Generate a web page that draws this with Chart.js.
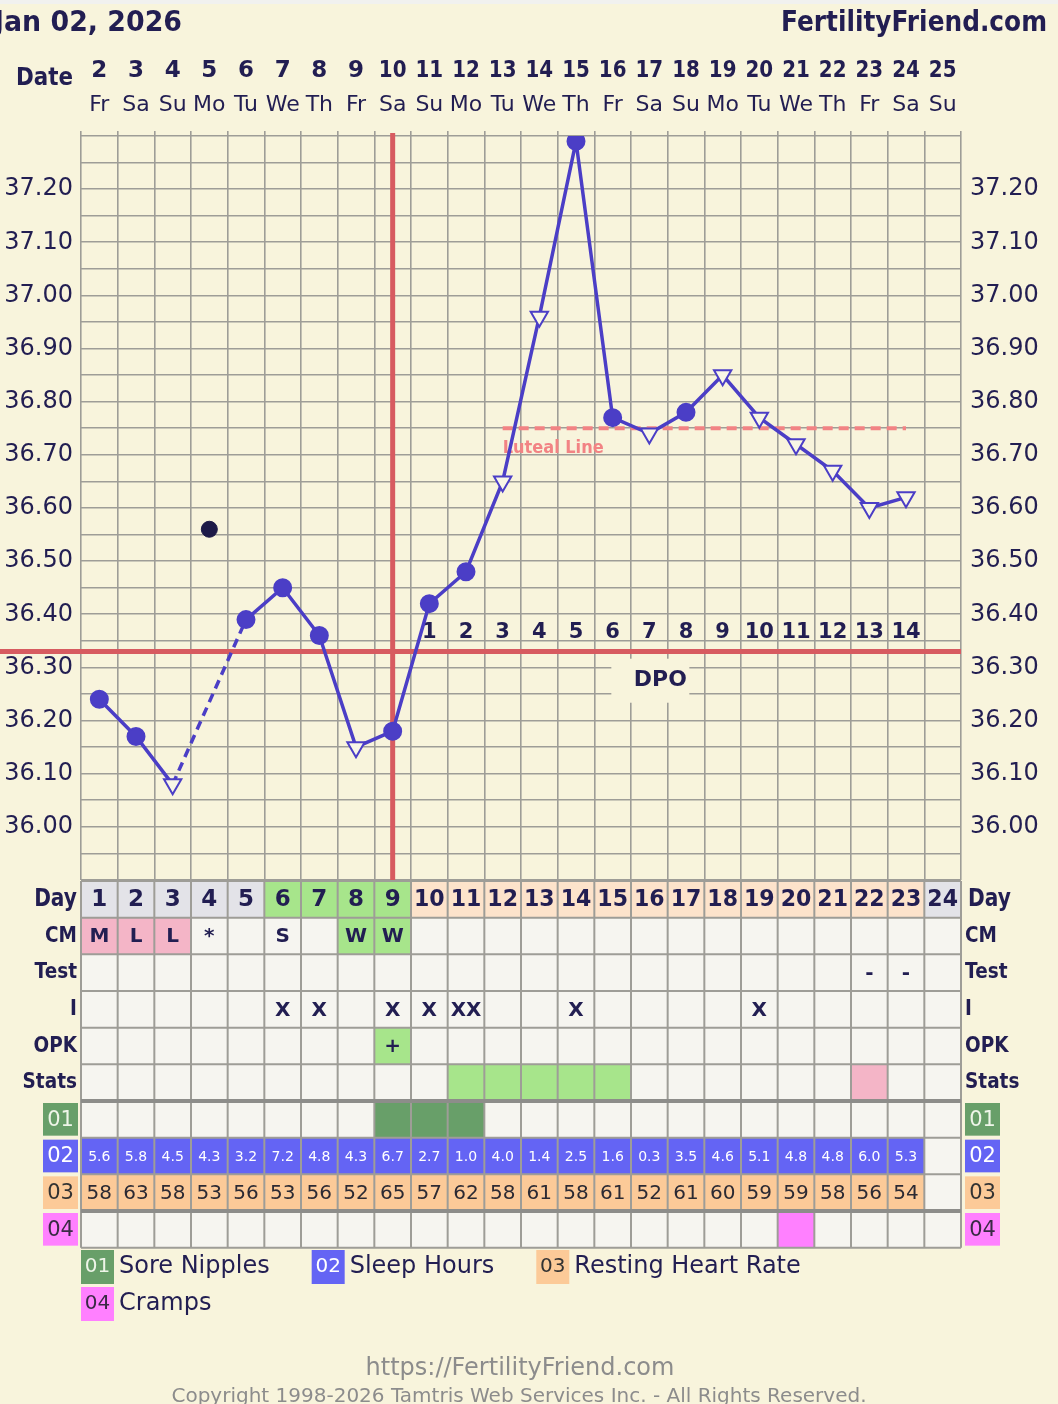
<!DOCTYPE html>
<html>
<head>
<meta charset="utf-8">
<title>BBT chart</title>
<script src="https://cdn.jsdelivr.net/npm/chart.js@4.4.1/dist/chart.umd.min.js"></script>
<style>
  html, body { margin: 0; padding: 0; background: #f8f4dc; }
  canvas { display: block; }
</style>
</head>
<body>
<canvas id="bbt" width="1058" height="1404"></canvas>
<script>
// --- cycle / calendar ---
const cycleDays = ['1','2','3','4','5','6','7','8','9','10','11','12','13','14','15','16','17','18','19','20','21','22','23','24'];
const dates = ['2','3','4','5','6','7','8','9','10','11','12','13','14','15','16','17','18','19','20','21','22','23','24','25'];
const weekdays = ['Fr','Sa','Su','Mo','Tu','We','Th','Fr','Sa','Su','Mo','Tu','We','Th','Fr','Sa','Su','Mo','Tu','We','Th','Fr','Sa','Su'];

// --- temperatures (null = no reading / discarded) ---
const temps = [36.24, 36.17, 36.08, null, 36.39, 36.45, 36.36, 36.15, 36.18, 36.42, 36.48, 36.65,
               36.96, 37.29, 36.77, 36.74, 36.78, 36.85, 36.77, 36.72, 36.67, 36.60, 36.62, null];
// c = normal reading, t = open triangle (time/sleep flag)
const markers = ['c','c','t','','c','c','c','t','c','c','c','t','t','c','c','t','c','t','t','t','t','t','t',''];
const discarded = [null, null, null, 36.56, null, null, null, null, null, null, null, null,
                   null, null, null, null, null, null, null, null, null, null, null, null];
const tempLabels = ['36.00','36.10','36.20','36.30','36.40','36.50','36.60','36.70','36.80','36.90','37.00','37.10','37.20'];

const coverline = 36.33;
const ovulationDay = 9;
const lutealLevel = 36.75, lutealFrom = 12, lutealTo = 23;
const dpo = ['','','','','','','','','','1','2','3','4','5','6','7','8','9','10','11','12','13','14',''];

// --- table rows ---
const dayPhase = ['m','m','m','m','m','f','f','f','f','l','l','l','l','l','l','l','l','l','l','l','l','l','l','n'];
const cmText   = ['M','L','L','*','','S','','W','W','','','','','','','','','','','','','','',''];
const cmFill   = ['p','p','p','','','','','g','g','','','','','','','','','','','','','','',''];
const testText = ['','','','','','','','','','','','','','','','','','','','','','-','-',''];
const iText    = ['','','','','','X','X','','X','X','XX','','','X','','','','','X','','','','',''];
const opkText  = ['','','','','','','','','+','','','','','','','','','','','','','','',''];
const opkFill  = ['','','','','','','','','g','','','','','','','','','','','','','','',''];
const statsFill= ['','','','','','','','','','','g','g','g','g','g','','','','','','','p','',''];
const soreNipples = [0,0,0,0,0,0,0,0,1,1,1,0,0,0,0,0,0,0,0,0,0,0,0,0];
const sleepHours = [5.6,5.8,4.5,4.3,3.2,7.2,4.8,4.3,6.7,2.7,1.0,4.0,1.4,2.5,1.6,0.3,3.5,4.6,5.1,4.8,4.8,6.0,5.3,null];
const restingHR  = [58,63,58,53,56,53,56,52,65,57,62,58,61,58,61,52,61,60,59,59,58,56,54,null];
const cramps     = [0,0,0,0,0,0,0,0,0,0,0,0,0,0,0,0,0,0,0,1,0,0,0,0];
const symptoms = [['01','Sore Nipples'],['02','Sleep Hours'],['03','Resting Heart Rate'],['04','Cramps']];

const C = {
  bg: '#f8f4dc', ink: '#221e52', grid: '#9e9d97', red: '#d75b60', salmon: '#f28384',
  line: '#4b3ec6', cell: '#f6f5f0', grey: '#e3e3e8', green: '#a7e58b', peach: '#fde3cb',
  pink: '#f4b5c7', dkgreen: '#689f69', blue: '#6464f4', orange: '#fcca98', magenta: '#ff80ff'
};
const FONT = '"DejaVu Sans", Verdana, sans-serif';
const phaseColor = { m: C.grey, f: C.green, l: C.peach, n: C.grey };
const codeColor = { p: C.pink, g: C.green };

function put(ctx, str, x, y, size, o = {}) {
  ctx.save();
  ctx.font = (o.bold ? 'bold ' : '') + size + 'px ' + FONT;
  ctx.fillStyle = o.color || C.ink;
  ctx.textAlign = o.align || 'center';
  ctx.textBaseline = 'middle';
  ctx.translate(x, y);
  if (o.fit) {
    const w = ctx.measureText(str).width;
    if (w > o.fit) ctx.scale(o.fit / w, 1);
  }
  ctx.fillText(str, 0, 0);
  ctx.restore();
}

function seg(ctx, x1, y1, x2, y2) {
  ctx.beginPath(); ctx.moveTo(x1, y1); ctx.lineTo(x2, y2); ctx.stroke();
}

const background = {
  id: 'background',
  beforeDraw(chart) {
    const { ctx, width, height } = chart;
    ctx.save();
    ctx.fillStyle = C.bg;
    ctx.fillRect(0, 0, width, height);
    ctx.fillStyle = '#f1f1ef';
    ctx.fillRect(0, 0, width, 4);
    ctx.restore();
  }
};

// coverline, ovulation line, luteal line, DPO counts
const decor = {
  id: 'decor',
  beforeDatasetsDraw(chart) {
    const { ctx, chartArea: a, scales: { x, y } } = chart;
    const w = x.getPixelForValue(1) - x.getPixelForValue(0);
    ctx.save();

    ctx.strokeStyle = C.red;
    ctx.lineWidth = 5;
    const yc = y.getPixelForValue(coverline);
    seg(ctx, 0, yc, a.right, yc);
    const xo = x.getPixelForValue(ovulationDay - 1);
    seg(ctx, xo, a.top - 3, xo, a.bottom);

    ctx.strokeStyle = C.salmon;
    ctx.lineWidth = 4;
    ctx.setLineDash([10, 6]);
    const yl = y.getPixelForValue(lutealLevel);
    seg(ctx, x.getPixelForValue(lutealFrom - 1), yl, x.getPixelForValue(lutealTo - 1), yl);
    ctx.setLineDash([]);
    put(ctx, 'Luteal Line', x.getPixelForValue(lutealFrom - 1), yl + 20, 17,
        { bold: true, color: C.salmon, align: 'left', fit: 101 });

    dpo.forEach((d, i) => {
      if (d) put(ctx, d, x.getPixelForValue(i), y.getPixelForValue(36.365), 21, { bold: true, fit: w - 7 });
    });
    const xd = x.getPixelForValue(15);
    const yd = y.getPixelForValue(36.275);
    ctx.fillStyle = C.bg;
    ctx.fillRect(xd - 38, yd - 22, 78, 44);
    put(ctx, 'DPO', xd + 11, yd, 22, { bold: true, fit: 53 });
    ctx.restore();
  }
};

// header, observation table, legend, footer
const frame = {
  id: 'frame',
  afterDraw(chart) {
    const { ctx, chartArea: a, scales: { x } } = chart;
    const w = x.getPixelForValue(1) - x.getPixelForValue(0);
    ctx.save();

    // header
    put(ctx, 'Jan 02, 2026', -6, 23, 29, { bold: true, align: 'left', fit: 188 });
    put(ctx, 'FertilityFriend.com', 1047, 23, 29, { bold: true, align: 'right', fit: 266 });
    put(ctx, 'Date', 73, 78, 25, { bold: true, align: 'right', fit: 57 });
    dates.forEach((d, i) => {
      const cx = x.getPixelForValue(i);
      put(ctx, d, cx, 71, 23, { bold: true, fit: w - 9 });
      put(ctx, weekdays[i], cx, 105, 22, { fit: w - 2 });
    });

    // table rows
    const rows = [
      { label: 'Day', text: cycleDays, fill: dayPhase.map(p => phaseColor[p]), size: 23 },
      { label: 'CM', text: cmText, fill: cmFill.map(c => codeColor[c]), size: 20 },
      { label: 'Test', text: testText, fill: [], size: 20 },
      { label: 'I', text: iText, fill: [], size: 20 },
      { label: 'OPK', text: opkText, fill: opkFill.map(c => codeColor[c]), size: 20 },
      { label: 'Stats', text: [], fill: statsFill.map(c => codeColor[c]), size: 20 },
      { box: '01', boxColor: C.dkgreen, boxInk: '#eef5e8', text: [], fill: soreNipples.map(v => v ? C.dkgreen : null) },
      { box: '02', boxColor: C.blue, boxInk: '#ffffff',
        text: sleepHours.map(v => v === null ? '' : v.toFixed(1)), fill: sleepHours.map(v => v === null ? null : C.blue),
        size: 14, ink: '#ffffff', regular: true },
      { box: '03', boxColor: C.orange, boxInk: '#333333',
        text: restingHR.map(v => v === null ? '' : String(v)), fill: restingHR.map(v => v === null ? null : C.orange),
        size: 20, ink: '#2c2a33', regular: true },
      { box: '04', boxColor: C.magenta, boxInk: '#3a2a45', text: [], fill: cramps.map(v => v ? C.magenta : null) }
    ];
    const top = a.bottom + 1;
    rows.forEach((row, r) => {
      const y0 = top + r * w;
      const ym = y0 + w / 2;
      cycleDays.forEach((d, i) => {
        const cx = x.getPixelForValue(i);
        ctx.fillStyle = row.fill[i] || C.cell;
        ctx.fillRect(cx - w / 2, y0, w, w);
        const t = row.text[i];
        if (t) put(ctx, t, cx, ym + 1, row.size, { bold: !row.regular, color: row.ink, fit: w - 6 });
      });
      if (row.label) {
        const sz = r === 0 ? 24 : 22;
        const squeeze = s => { ctx.font = 'bold ' + sz + 'px ' + FONT; return ctx.measureText(s).width * 0.84; };
        put(ctx, row.label, a.left - 4, ym, sz, { bold: true, align: 'right', fit: squeeze(row.label) });
        put(ctx, row.label, a.right + 4 + (r === 0 ? 3 : 0), ym, sz, { bold: true, align: 'left', fit: squeeze(row.label) });
      } else {
        [a.left - 38, a.right + 4].forEach(bx => {
          ctx.fillStyle = row.boxColor;
          ctx.fillRect(bx, y0 + 2, 35, w - 4);
          put(ctx, row.box, bx + 17.5, ym + 1, 21, { color: row.boxInk, fit: 33 });
        });
      }
    });

    // table grid
    ctx.strokeStyle = C.grid;
    ctx.lineWidth = 2;
    for (let i = 0; i <= cycleDays.length; i++) {
      const gx = x.getPixelForValue(i) - w / 2;
      seg(ctx, gx, top, gx, top + rows.length * w);
    }
    for (let r = 0; r <= rows.length; r++) {
      const gy = top + r * w;
      const thick = r === 6 || r === 9;
      ctx.lineWidth = thick ? 4 : 2;
      ctx.strokeStyle = thick ? '#8d8d8a' : C.grid;
      seg(ctx, a.left, gy, a.right, gy);
    }

    // legend
    const boxColors = [C.dkgreen, C.blue, C.orange, C.magenta];
    const boxInks = ['#eef5e8', '#ffffff', '#333333', '#3a2a45'];
    let lx = a.left, ly = 1250;
    ctx.font = '24px ' + FONT;
    symptoms.forEach(([code, name], k) => {
      const tw = ctx.measureText(name).width;
      if (lx + 38 + tw > a.right) { lx = a.left; ly += 37; }
      ctx.fillStyle = boxColors[k];
      ctx.fillRect(lx, ly, 33, 34);
      put(ctx, code, lx + 16.5, ly + 17, 20, { color: boxInks[k], fit: 31 });
      put(ctx, name, lx + 38, ly + 17, 24, { align: 'left' });
      ctx.font = '24px ' + FONT;
      lx += 38 + tw + 42;
    });

    // footer
    put(ctx, 'https://FertilityFriend.com', 520, 1369, 24, { color: '#8c8c8c', fit: 324 });
    put(ctx, 'Copyright 1998-2026 Tamtris Web Services Inc. - All Rights Reserved.', 519, 1397, 20,
        { color: '#8c8c8c', fit: 719 });
    ctx.restore();
  }
};

const tempTick = v => {
  const s = Number(v).toFixed(2);
  return tempLabels.includes(s) ? s : '';
};

new Chart(document.getElementById('bbt'), {
  type: 'line',
  data: {
    labels: cycleDays,
    datasets: [
      {
        data: temps,
        borderColor: C.line,
        borderWidth: 3.5,
        spanGaps: true,
        tension: 0,
        // dashed where the line bridges a missing/discarded day
        segment: { borderDash: ctx => (temps[ctx.p0DataIndex] === null ? [9, 6] : undefined) },
        pointStyle: markers.map(m => (m === 't' ? 'triangle' : 'circle')),
        pointRotation: markers.map(m => (m === 't' ? 180 : 0)),
        pointRadius: markers.map(m => (m === 't' ? 10 : 8.5)),
        pointBackgroundColor: markers.map(m => (m === 't' ? '#f8f6e6' : C.line)),
        pointBorderColor: C.line,
        pointBorderWidth: 2
      },
      {
        data: discarded,
        showLine: false,
        pointRadius: 8,
        pointBackgroundColor: '#1d1a48',
        pointBorderColor: '#1d1a48'
      }
    ]
  },
  options: {
    responsive: false,
    animation: false,
    events: [],
    layout: { padding: { top: 131, bottom: 524, left: 0, right: 0 } },
    plugins: { legend: { display: false }, tooltip: { enabled: false } },
    scales: {
      x: {
        type: 'category',
        position: 'top',
        offset: true,
        grid: { offset: true, color: C.grid, lineWidth: 1.6, drawTicks: true, tickLength: 5 },
        border: { display: false },
        ticks: { display: false },
        afterFit: s => { s.height = 5; }
      },
      y: {
        position: 'left',
        min: 35.9,
        max: 37.3,
        grid: { color: C.grid, lineWidth: 1.6, drawTicks: false },
        border: { display: false },
        ticks: { stepSize: 0.05, autoSkip: false, padding: 8, color: C.ink, font: { family: FONT, size: 24 }, callback: tempTick },
        afterFit: s => { s.width = 81; }
      },
      y2: {
        position: 'right',
        min: 35.9,
        max: 37.3,
        grid: { display: false, drawTicks: false },
        border: { display: false },
        ticks: { stepSize: 0.05, autoSkip: false, padding: 9, color: C.ink, font: { family: FONT, size: 24 }, callback: tempTick },
        afterFit: s => { s.width = 97; }
      }
    }
  },
  plugins: [background, decor, frame]
});
</script>
</body>
</html>
